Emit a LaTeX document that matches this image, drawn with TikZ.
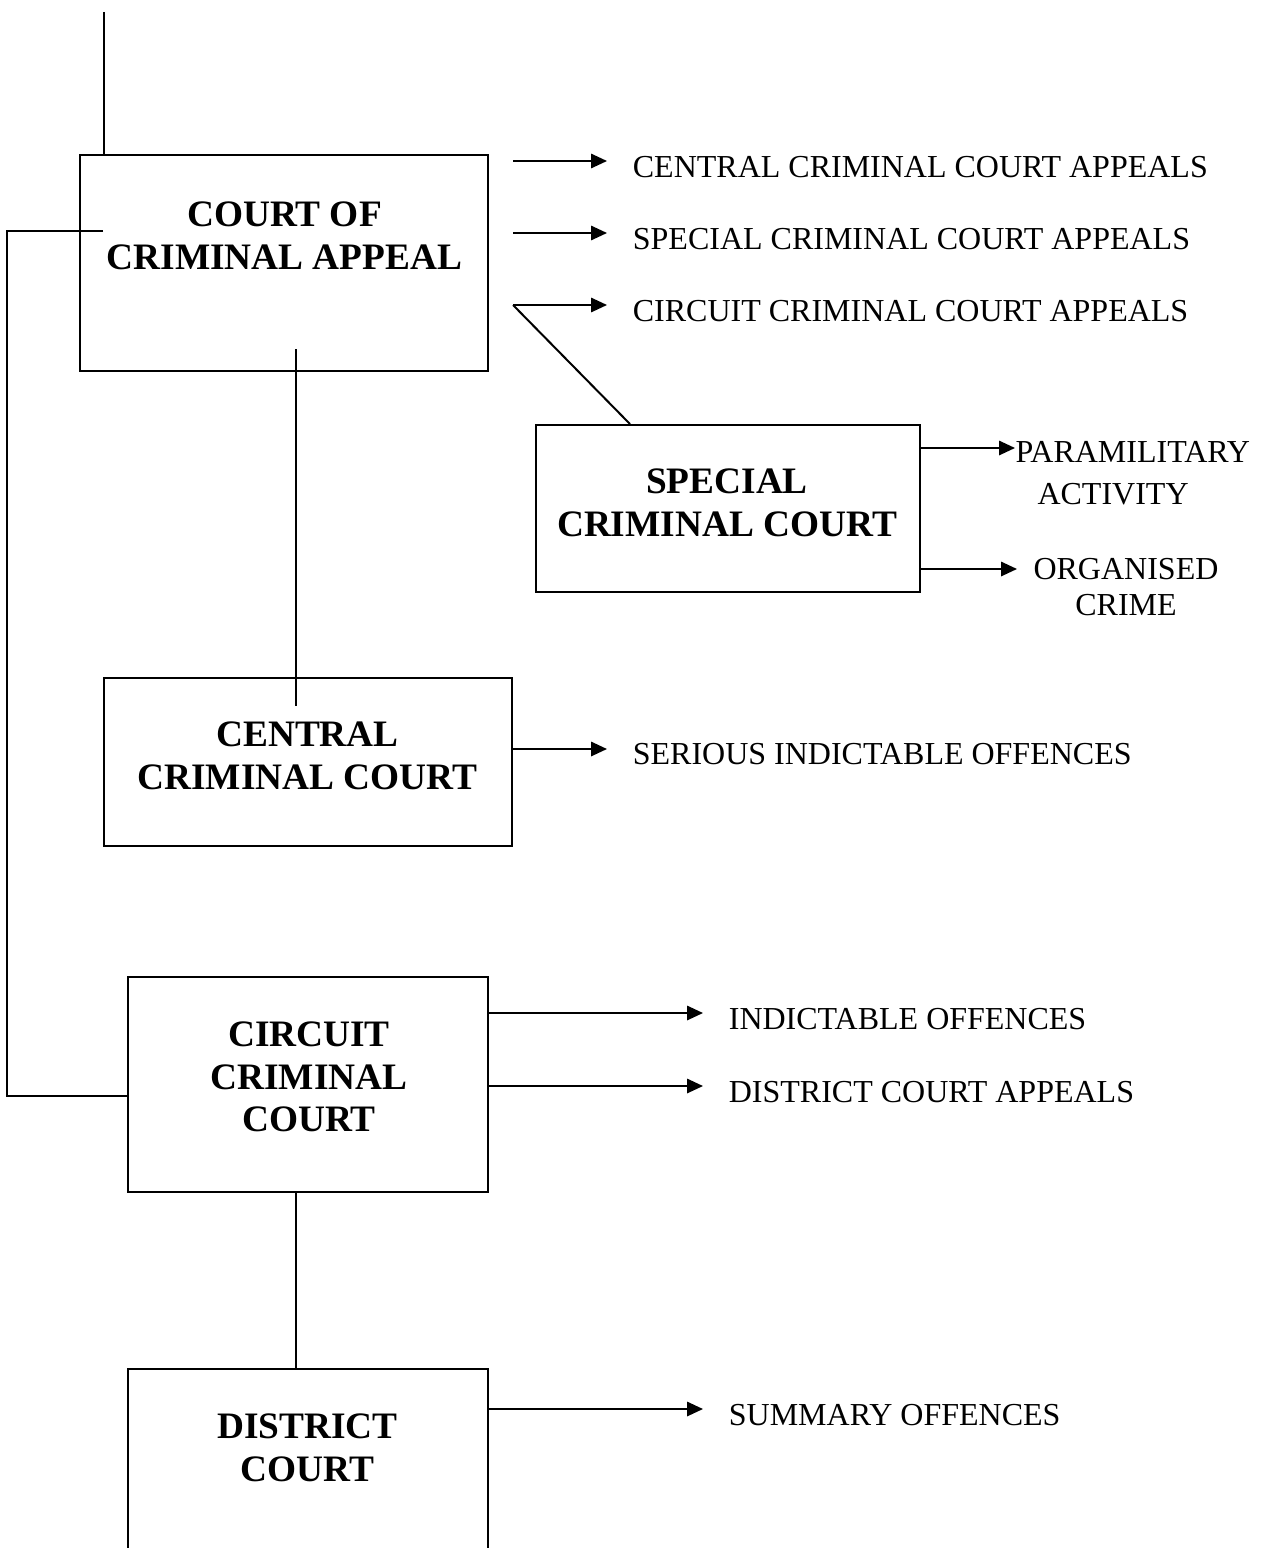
\documentclass[tikz,border=0pt]{standalone}
\usepackage{fontspec}
\setmainfont{Liberation Serif}
\usetikzlibrary{arrows.meta,calc}
\tikzset{
  court/.style={draw,line width=.75pt,inner sep=0pt},
  courttxt/.style={font=\fontsize{14}{15.9}\selectfont\bfseries,align=center,inner sep=0pt},
  outcome/.style={font=\fontsize{12}{13.8}\selectfont,anchor=west,inner xsep=9.5pt,inner ysep=0pt},
  arr/.style={-{Triangle[length=6pt,width=5.4pt]},line width=.75pt},
  lnk/.style={line width=.75pt},
}

\begin{document}
\begin{tikzpicture}[x=0.375pt,y=-0.375pt]
  \useasboundingbox (0,0) rectangle (1261,1548);
  \clip (0,0) rectangle (1261,1548);
  % courts
  \node[court,minimum width=153pt,minimum height=81pt] (cca) at (284,263) {};
  \node[courttxt] (ccaT) at (284.5,236) {COURT OF\\CRIMINAL APPEAL};
  \node[court,minimum width=144pt,minimum height=62.6pt] (scc) at (728,508.5) {};
  \node[courttxt] (sccT) at (727,503) {SPECIAL\\CRIMINAL COURT};
  \node[court,minimum width=153pt,minimum height=63pt] (ccc) at (308,762) {};
  \node[courttxt] (cccT) at (307.5,756) {CENTRAL\\CRIMINAL COURT};
  \node[court,minimum width=135pt,minimum height=80.6pt] (circ) at (308,1084.5) {};
  \node[courttxt] (circT) at (309,1077) {CIRCUIT\\CRIMINAL\\COURT};
  \node[court,minimum width=135pt,minimum height=80.6pt] (dist) at (308,1476.5) {};
  \node[courttxt] (distT) at (307.5,1448) {DISTRICT\\COURT};

  % links between courts
  \coordinate (top) at (104,12);
  \draw[lnk] (top) -- (top |- cca.north);
  \draw[lnk] ($(cca.north west)+(24,77)$) -| ($(circ.west)+(-120,11.5)$) -- ($(circ.west)+(0,11.5)$);
  \draw[lnk] ($(cca.south)+(12,-23)$) -- ($(ccc.north)+(-12,29)$);
  \draw[lnk] ($(circ.south)+(-12,0)$) -- ($(dist.north)+(-12,0)$);

  % appeals
  \foreach \n/\y/\t in {1/161/CENTRAL, 2/233/SPECIAL, 3/305/CIRCUIT}{
    \node[outcome] (app\n) at (607,\y+6) {\t\ CRIMINAL COURT APPEALS};
    \coordinate (out\n) at ($(cca.east)+(24,\y-263)$);
    \draw[arr] (out\n) -- (out\n -| app\n.west);
  }
  \draw[lnk] (out3) -- ($(scc.north west)+(95,0)$);

  % special criminal court
  \node[outcome,inner xsep=0pt,align=left,font=\fontsize{12}{15.75}\selectfont] (para) at (1015,473)
    {PARAMILITARY\\\hspace*{8.25pt}ACTIVITY};
  \node[outcome,inner xsep=6pt,align=center,font=\fontsize{12}{13.7}\selectfont] (org) at (1017,587)
    {ORGANISED\\CRIME};
  \coordinate (sp) at ($(scc.east)+(0,-60.5)$);
  \coordinate (so) at ($(scc.east)+(0,60.5)$);
  \draw[arr] (sp) -- (sp -| para.west);
  \draw[arr] (so) -- (so -| org.west);

  % central criminal court
  \node[outcome] (sio) at (607,754) {SERIOUS INDICTABLE OFFENCES};
  \coordinate (cc) at ($(ccc.east)+(0,-13)$);
  \draw[arr] (cc) -- (cc -| sio.west);

  % circuit criminal court
  \node[outcome] (ind) at (703,1019) {INDICTABLE OFFENCES};
  \node[outcome] (dca) at (703,1092) {DISTRICT COURT APPEALS};
  \coordinate (ci1) at ($(circ.east)+(0,-71.5)$);
  \coordinate (ci2) at ($(circ.east)+(0,1.5)$);
  \draw[arr] (ci1) -- (ci1 -| ind.west);
  \draw[arr] (ci2) -- (ci2 -| dca.west);

  % district court
  \node[outcome] (sum) at (703,1415) {SUMMARY OFFENCES};
  \coordinate (dc) at ($(dist.east)+(0,-67.5)$);
  \draw[arr] (dc) -- (dc -| sum.west);
\end{tikzpicture}
\end{document}
